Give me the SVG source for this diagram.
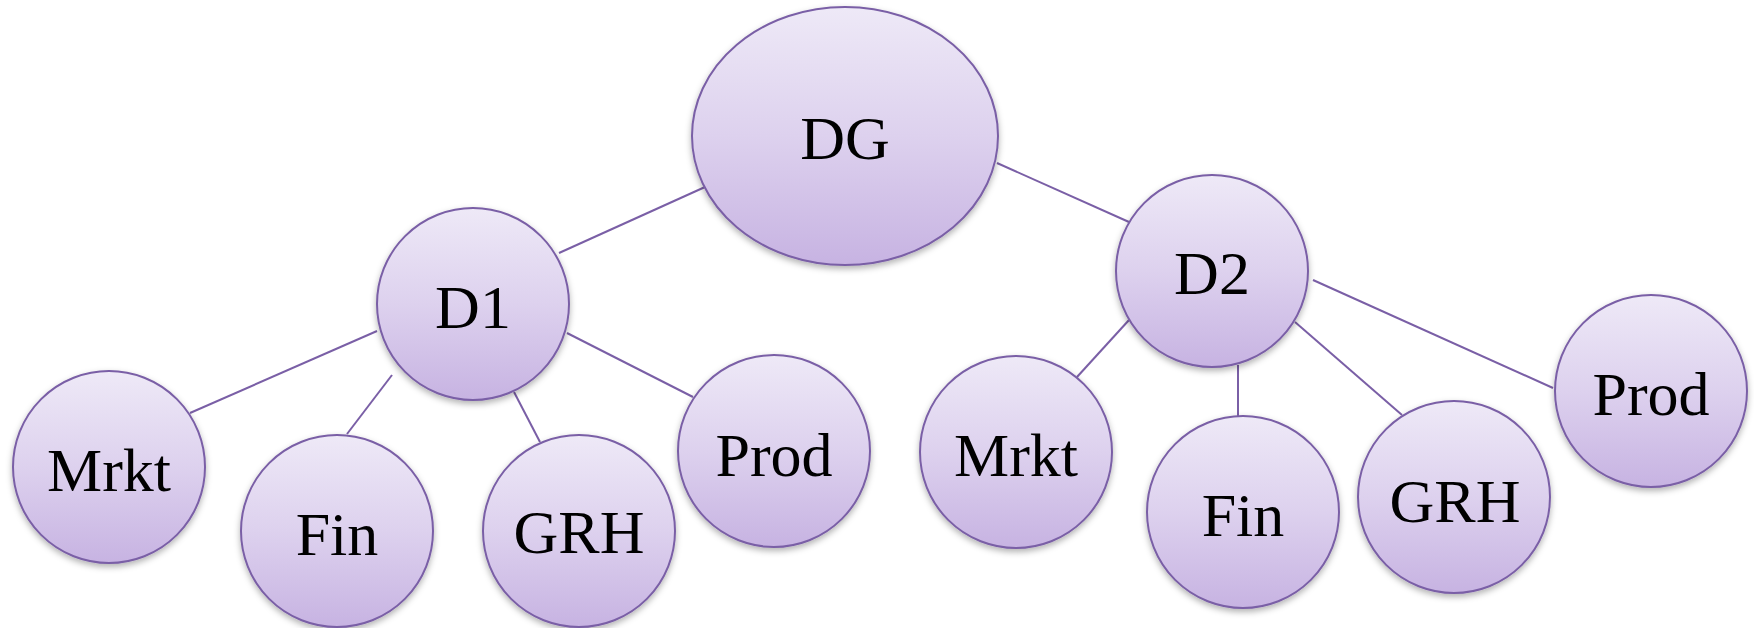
<svg xmlns="http://www.w3.org/2000/svg" width="1754" height="628" viewBox="0 0 1754 628">
  <defs>
    <linearGradient id="bubbleFill" x1="0" y1="0" x2="0" y2="1">
      <stop offset="0" stop-color="#EEE9F7"/>
      <stop offset="0.5" stop-color="#DDD1EE"/>
      <stop offset="1" stop-color="#C7B3E2"/>
    </linearGradient>
    <filter id="softShadow" x="-20%" y="-20%" width="140%" height="150%">
      <feDropShadow dx="0" dy="3" stdDeviation="3" flood-color="#000000" flood-opacity="0.3"/>
    </filter>
  </defs>
  <style>
    .bubble { fill: url(#bubbleFill); stroke: #7A5FA6; stroke-width: 2; filter: url(#softShadow); }
    .label { font-family: "Liberation Serif", "Times New Roman", serif; font-size: 62px; fill: #000000; text-anchor: middle; }
    .link { stroke: #7A5FA6; stroke-width: 2; fill: none; }
  </style>
  <rect width="1754" height="628" fill="#FFFFFF"/>

  <g id="connectors">
    <line class="link" x1="559" y1="253" x2="705" y2="187"/>
    <line class="link" x1="997" y1="163" x2="1129" y2="222"/>
    <line class="link" x1="190" y1="413" x2="377" y2="331"/>
    <line class="link" x1="347" y1="434" x2="392" y2="375"/>
    <line class="link" x1="514" y1="392" x2="540" y2="442"/>
    <line class="link" x1="567" y1="333" x2="693" y2="397"/>
    <line class="link" x1="1129" y1="320" x2="1077" y2="377"/>
    <line class="link" x1="1238" y1="365" x2="1238" y2="416"/>
    <line class="link" x1="1295" y1="322" x2="1402" y2="415"/>
    <line class="link" x1="1313" y1="280" x2="1553" y2="388"/>
  </g>

  <g id="node-dg">
    <ellipse class="bubble" cx="845" cy="136" rx="153" ry="129"/>
    <text class="label" x="845" y="159">DG</text>
  </g>
  <g id="node-d1">
    <circle class="bubble" cx="473" cy="304" r="96"/>
    <text class="label" x="473" y="328">D1</text>
  </g>
  <g id="node-d2">
    <circle class="bubble" cx="1212" cy="271" r="96"/>
    <text class="label" x="1212" y="294">D2</text>
  </g>

  <g id="node-d1-mrkt">
    <circle class="bubble" cx="109" cy="467" r="96"/>
    <text class="label" x="109" y="491">Mrkt</text>
  </g>
  <g id="node-d1-fin">
    <circle class="bubble" cx="337" cy="531" r="96"/>
    <text class="label" x="337" y="555">Fin</text>
  </g>
  <g id="node-d1-grh">
    <circle class="bubble" cx="579" cy="531" r="96"/>
    <text class="label" x="579" y="553">GRH</text>
  </g>
  <g id="node-d1-prod">
    <circle class="bubble" cx="774" cy="451" r="96"/>
    <text class="label" x="774" y="476">Prod</text>
  </g>

  <g id="node-d2-mrkt">
    <circle class="bubble" cx="1016" cy="452" r="96"/>
    <text class="label" x="1016" y="476">Mrkt</text>
  </g>
  <g id="node-d2-fin">
    <circle class="bubble" cx="1243" cy="512" r="96"/>
    <text class="label" x="1243" y="536">Fin</text>
  </g>
  <g id="node-d2-grh">
    <circle class="bubble" cx="1454" cy="497" r="96"/>
    <text class="label" x="1455" y="522">GRH</text>
  </g>
  <g id="node-d2-prod">
    <circle class="bubble" cx="1651" cy="391" r="96"/>
    <text class="label" x="1651" y="415">Prod</text>
  </g>
</svg>
